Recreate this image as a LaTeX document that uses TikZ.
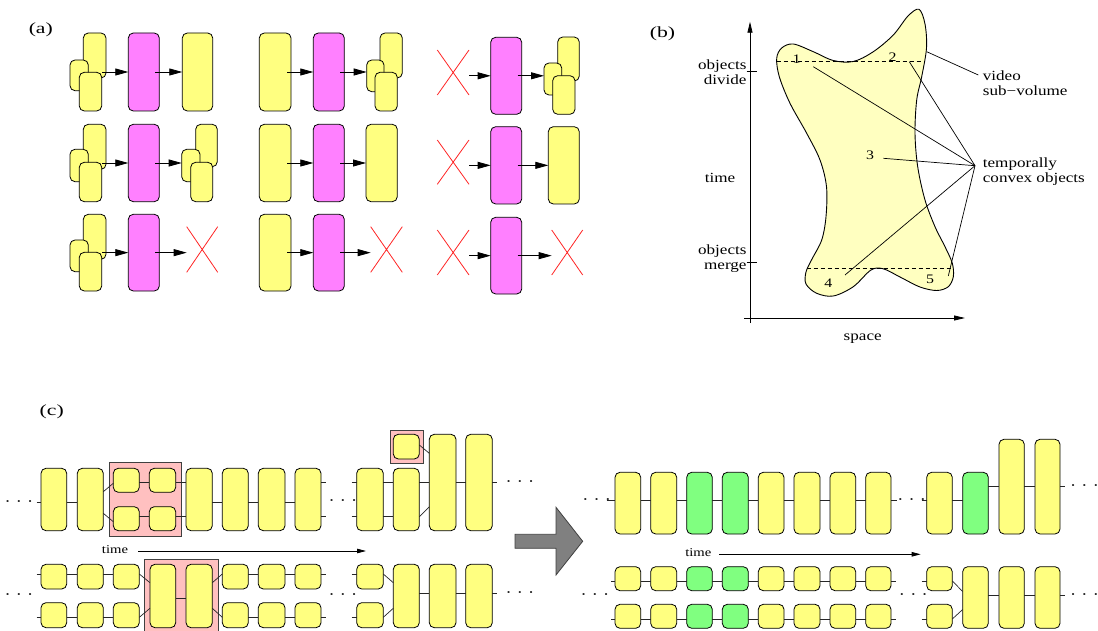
\documentclass[tikz,border=0pt]{standalone}
\usepackage{fontspec}
\setmainfont{Liberation Serif}[FakeStretch=1.22]
\newfontfamily\labelfont{Liberation Serif}[FakeStretch=1.4]
\usetikzlibrary{arrows.meta}
\definecolor{objyel}{HTML}{FFFF80}
\definecolor{objmag}{HTML}{FF80FF}
\definecolor{objgrn}{HTML}{80FF80}
\definecolor{selpink}{HTML}{FFC0C0}
\definecolor{blobfill}{HTML}{FFFFC0}
\definecolor{xred}{HTML}{FF2424}
\definecolor{arrgray}{HTML}{808080}
\newcommand{\ObjBox}[6]{\node[objbox, fill=#2, minimum width={(#5)-(#3)}, minimum height={(#6)-(#4)}] (#1) at ({((#3)+(#5))/2},{((#4)+(#6))/2}) {};}
\newcommand{\SelBox}[5]{\node[selbox, minimum width={(#4)-(#2)}, minimum height={(#5)-(#3)}] (#1) at ({((#2)+(#4))/2},{((#3)+(#5))/2}) {};}
\newcommand{\XMark}[5]{\node[xbox, minimum width={(#4)-(#2)}, minimum height={(#5)-(#3)}] (#1) at ({((#2)+(#4))/2},{((#3)+(#5))/2}) {};
  \draw[xline] (#1.north west) -- (#1.south east) (#1.south west) -- (#1.north east);}
\newcommand{\Lvl}[2]{\coordinate (#1) at (0,#2);}
\newcommand{\Dots}{·\hspace{5.2pt}·\hspace{5.2pt}·}
\begin{document}
\begin{tikzpicture}[x=1pt,y=-1pt,
  objbox/.style={draw=black, line width=0.8pt, rounded corners=5pt, inner sep=0pt, outer sep=0pt},
  selbox/.style={draw=black!75, fill=selpink, line width=0.8pt, inner sep=0pt, outer sep=0pt},
  xbox/.style={inner sep=0pt, outer sep=0pt},
  xline/.style={draw=xred, line width=0.8pt},
  arr/.style={-{Triangle[length=13pt,width=7pt]}, line width=0.8pt, shorten <=-4pt},
  conn/.style={draw=black!85, line width=0.7pt},
  tarr/.style={-{Triangle[length=9pt,width=4.5pt]}, line width=0.8pt},
  axarr/.style={-{Triangle[length=11pt,width=5pt]}, line width=0.8pt},
  thinln/.style={draw=black, line width=0.7pt},
  dashln/.style={draw=black, line width=0.7pt, dash pattern=on 4pt off 3pt},
  blob/.style={fill=blobfill, draw=black, line width=0.9pt},
  labtxt/.style={font=\labelfont\fontsize{15.5}{15.5}\selectfont, inner sep=0pt},
  btxt/.style={font=\fontsize{14}{15}\selectfont, inner sep=0pt},
  numtxt/.style={font=\fontsize{13}{13}\selectfont, inner sep=0pt},
  ctxt/.style={font=\fontsize{12}{12}\selectfont, inner sep=0pt},
  dots/.style={font=\fontsize{15}{15}\selectfont, inner sep=0pt, anchor=base, yshift=-4pt}]
\useasboundingbox (0,0) rectangle (1098,631);
\clip (0,0) rectangle (1098,631);

% ================= (a) =================
\node[labtxt] (la) at (40.8,30) {(a)};
% group 1
\ObjBox{a1b}{objyel}{83.3}{33}{106}{78}
\ObjBox{a1l}{objyel}{70}{60}{88.3}{90.7}
\ObjBox{a1f}{objyel}{79.3}{72.3}{101.7}{111}
\ObjBox{a1m}{objmag}{128.3}{33}{159.3}{111}
\ObjBox{a1r}{objyel}{182.3}{33}{212.7}{111}
\draw[arr] (a1m.west -| a1b.east) -- (a1m.west);
\draw[arr] (a1m.east) -- (a1r.west);
\ObjBox{a2b}{objyel}{83.3}{124.3}{106}{169.3}
\ObjBox{a2l}{objyel}{70}{149.3}{88.3}{181.7}
\ObjBox{a2f}{objyel}{79.3}{162.3}{101.7}{201.7}
\ObjBox{a2m}{objmag}{128.3}{124.3}{159.3}{201.7}
\ObjBox{a2rb}{objyel}{195.7}{124.3}{217.3}{166.7}
\ObjBox{a2rl}{objyel}{181.7}{149.3}{200}{181.7}
\ObjBox{a2rf}{objyel}{190.7}{162.3}{212.7}{201.7}
\draw[arr] (a2m.west -| a2b.east) -- (a2m.west);
\draw[arr] (a2m.east) -- (a2m.east -| a2rl.west);
\ObjBox{a3b}{objyel}{83.3}{214.3}{106}{259.3}
\ObjBox{a3l}{objyel}{70}{240}{88.3}{271.7}
\ObjBox{a3f}{objyel}{79.3}{252.3}{101.7}{291}
\ObjBox{a3m}{objmag}{128.3}{214.3}{159.3}{291}
\XMark{a3x}{186.7}{226.7}{217.7}{272.3}
\draw[arr] (a3m.west -| a3b.east) -- (a3m.west);
\draw[arr] (a3m.east) -- (a3m.east -| a3x.west);
% group 2
\ObjBox{b1y}{objyel}{259.3}{33}{291}{111}
\ObjBox{b1m}{objmag}{313.3}{33}{344.3}{111}
\ObjBox{b1rb}{objyel}{380}{33}{402.3}{78}
\ObjBox{b1rl}{objyel}{366.7}{60}{384}{91.7}
\ObjBox{b1rf}{objyel}{375}{72.3}{397.3}{111}
\draw[arr] (b1y.east) -- (b1m.west);
\draw[arr] (b1m.east) -- (b1m.east -| b1rl.west);
\ObjBox{b2y}{objyel}{259.3}{124.3}{291}{201.7}
\ObjBox{b2m}{objmag}{313.3}{124.3}{344.3}{201.7}
\ObjBox{b2r}{objyel}{366}{124.3}{397.3}{201.7}
\draw[arr] (b2y.east) -- (b2m.west);
\draw[arr] (b2m.east) -- (b2r.west);
\ObjBox{b3y}{objyel}{259.3}{214.3}{291}{291}
\ObjBox{b3m}{objmag}{313.3}{214.3}{344.3}{291}
\XMark{b3x}{370.7}{226.7}{402.3}{272.3}
\draw[arr] (b3y.east) -- (b3m.west);
\draw[arr] (b3m.east) -- (b3m.east -| b3x.west);
% group 3
\XMark{c1x}{437.3}{50}{469}{95}
\ObjBox{c1m}{objmag}{490.7}{37.3}{521.7}{114.3}
\ObjBox{c1rb}{objyel}{557.7}{37}{579.3}{81}
\ObjBox{c1rl}{objyel}{544}{63}{561.7}{95}
\ObjBox{c1rf}{objyel}{552.7}{75.7}{575}{114.3}
\draw[arr, shorten <=0pt] (c1m.west -| c1x.east) -- (c1m.west);
\draw[arr] (c1m.east) -- (c1m.east -| c1rl.west);
\XMark{c2x}{437.3}{140}{469}{184.3}
\ObjBox{c2m}{objmag}{490.7}{126.7}{521.7}{204}
\ObjBox{c2r}{objyel}{548.3}{126.7}{579.3}{204}
\draw[arr, shorten <=0pt] (c2m.west -| c2x.east) -- (c2m.west);
\draw[arr] (c2m.east) -- (c2r.west);
\XMark{c3x}{437.3}{230}{469}{275}
\ObjBox{c3m}{objmag}{490.7}{217.3}{521.7}{294}
\XMark{c3y}{551.7}{230}{582.7}{275}
\draw[arr, shorten <=0pt] (c3m.west -| c3x.east) -- (c3m.west);
\draw[arr] (c3m.east) -- (c3m.east -| c3y.west);

% ================= (b) =================
\node[labtxt] (lbb) at (662.5,33.5) {(b)};
\filldraw[blob] plot[smooth cycle, tension=0.55] coordinates {
 (919,9.3) (925,24) (926.5,48) (921.7,76.7) (916.7,100) (915,133.3) (917.7,166.7)
 (925,200) (935,226.7) (945,246.7) (952.3,263.3) (953.3,276.7) (948.3,286.7)
 (936.7,290.5) (920,287) (900,277) (883.3,268.8) (871,270) (853.3,286.7)
 (833.3,296) (816.7,293.3) (806,284) (806,272) (812,259) (821.7,240) (826,216.7)
 (826.5,186.7) (820,160) (806.7,133.3) (790,103.3) (779.3,76.7) (776.7,58.3)
 (781.7,48) (793.3,44) (813.3,51.7) (833.3,60.5) (853.3,61.5) (873.3,51.7)
 (893.3,35) (908,16)};
\coordinate (d1a) at (776.7,61); \coordinate (d1b) at (923.3,61);
\coordinate (d2a) at (806.7,268.3); \coordinate (d2b) at (953,268.3);
\draw[dashln] (d1a) -- (d1b);
\draw[dashln] (d2a) -- (d2b);
\coordinate (vb) at (750,323); \coordinate (vt) at (750,21.7);
\coordinate (hl) at (744,318); \coordinate (hr) at (965,318);
\draw[axarr] (vb) -- (vt);
\draw[axarr] (hl) -- (hr);
\coordinate (t1a) at (746.7,71.7); \coordinate (t1b) at (756.7,71.7);
\coordinate (t2a) at (746.7,262.3); \coordinate (t2b) at (756.7,262.3);
\draw[thinln] (t1a) -- (t1b);
\draw[thinln] (t2a) -- (t2b);
\node[btxt, align=right, anchor=east] (odiv) at (746.7,72) {objects\\divide};
\node[btxt, align=right, anchor=east] (omer) at (746.7,259) {objects\\merge};
\node[btxt] (btime) at (720,177.7) {time};
\node[btxt] (bspace) at (862.7,338.3) {space};
\node[numtxt] (n1) at (796.7,59) {1};
\node[numtxt] (n2) at (892.7,56.7) {2};
\node[numtxt] (n3) at (870,155) {3};
\node[numtxt] (n4) at (828.3,283.3) {4};
\node[numtxt] (n5) at (930,279.3) {5};
\node[btxt, align=left, anchor=west] (vsv) at (982.7,83) {video\\sub−volume};
\node[btxt, align=left, anchor=west] (tco) at (982.7,172) {temporally\\convex objects};
\coordinate (vsp) at (926.7,51.7); \coordinate (vsq) at (978.3,75);
\draw[thinln] (vsp) -- (vsq);
\coordinate (tcp) at (975,165.7);
\coordinate (e1) at (813.3,66.7); \coordinate (e2) at (909.3,61.7);
\coordinate (e3) at (883.3,158.3); \coordinate (e4) at (845,275);
\coordinate (e5) at (948.3,276);
\draw[thinln] (tcp) -- (e1);
\draw[thinln] (tcp) -- (e2);
\draw[thinln] (tcp) -- (e3);
\draw[thinln] (tcp) -- (e4);
\draw[thinln] (tcp) -- (e5);

% ================= (c) =================
\node[labtxt] (lc) at (51.7,411.7) {(c)};
% ---- top-left row
\Lvl{PA}{482.7}\Lvl{PB}{516.7}\Lvl{PM}{502.3}
\Lvl{PD1}{491.7}\Lvl{PD2}{513.3}\Lvl{PS1}{483.3}\Lvl{PS2}{521.7}
\SelBox{pk1}{109.3}{462.7}{181}{536}
\ObjBox{p1}{objyel}{41}{468.3}{66.7}{530.7}
\ObjBox{p2}{objyel}{77.3}{468.3}{103.3}{530.7}
\ObjBox{p3t}{objyel}{113.3}{468.3}{139.3}{492.3}
\ObjBox{p3b}{objyel}{113.3}{506.7}{139.3}{530.7}
\ObjBox{p4t}{objyel}{149.3}{468.3}{175.7}{492.3}
\ObjBox{p4b}{objyel}{149.3}{506.7}{175.7}{530.7}
\ObjBox{p5}{objyel}{186}{468.3}{212.3}{530.7}
\ObjBox{p6}{objyel}{222.3}{468.3}{248.3}{530.7}
\ObjBox{p7}{objyel}{258.3}{468.3}{285}{530.7}
\ObjBox{p8}{objyel}{295}{468.3}{321}{530.7}
\coordinate (pL) at (36.7,502.3);
\coordinate (pRa) at (325.5,482.7); \coordinate (pRb) at (325.5,516.7);
\node[dots] (pdl) at (19,502.3) {\Dots};
\node[dots] (pdr) at (343,501) {\Dots};
\draw[conn] (pL) -- (p1.west |- PM);
\draw[conn] (p1.east |- PM) -- (p2.west |- PM);
\draw[conn] (p2.east |- PD1) -- (p3t.west |- PS1);
\draw[conn] (p2.east |- PD2) -- (p3b.west |- PS2);
\draw[conn] (p3t.east |- PA) -- (p4t.west |- PA);
\draw[conn] (p3b.east |- PB) -- (p4b.west |- PB);
\draw[conn] (p4t.east |- PA) -- (p5.west |- PA);
\draw[conn] (p4b.east |- PB) -- (p5.west |- PB);
\draw[conn] (p5.east |- PM) -- (p6.west |- PM);
\draw[conn] (p6.east |- PM) -- (p7.west |- PM);
\draw[conn] (p7.east |- PM) -- (p8.west |- PM);
\draw[conn] (p8.east |- PA) -- (pRa);
\draw[conn] (p8.east |- PB) -- (pRb);
% ---- top-right group (left half)
\Lvl{QD}{506.7}\Lvl{QS}{445}\Lvl{QT}{453.3}
\SelBox{pk2}{390}{430}{423.7}{463.3}
\ObjBox{q1}{objyel}{356.7}{468.3}{383.3}{530.7}
\ObjBox{q2}{objyel}{393.3}{468.3}{419.3}{530.7}
\ObjBox{qs}{objyel}{393.3}{434.3}{419.3}{459}
\ObjBox{q3}{objyel}{429.3}{434.3}{456}{530.7}
\ObjBox{q4}{objyel}{465.7}{434.3}{492.3}{530.7}
\coordinate (qLa) at (351.7,482.7); \coordinate (qLb) at (351.7,516.7);
\coordinate (qR) at (496.7,482.7);
\node[dots] (qdr) at (520,482.7) {\Dots};
\draw[conn] (qLa) -- (q1.west |- PA);
\draw[conn] (qLb) -- (q1.west |- PB);
\draw[conn] (q1.east |- PA) -- (q2.west |- PA);
\draw[conn] (q1.east |- PB) -- (q2.west |- PB);
\draw[conn] (q2.east |- PA) -- (q3.west |- PA);
\draw[conn] (q2.east |- PB) -- (q3.west |- QD);
\draw[conn] (qs.east |- QS) -- (q3.west |- QT);
\draw[conn] (q3.east |- PA) -- (q4.west |- PA);
\draw[conn] (q4.east |- PA) -- (qR);
% ---- time arrow (left)
\node[ctxt] (tleft) at (115,550) {time};
\coordinate (tls) at (138.3,551); \coordinate (tle) at (366,551);
\draw[tarr] (tls) -- (tle);
% ---- bottom-left row
\Lvl{SA}{574}\Lvl{SB}{617.3}\Lvl{SM}{598.3}\Lvl{SD1}{582.7}\Lvl{SD2}{608.3}
\SelBox{pk3}{144}{559.3}{218.3}{645}
\ObjBox{s1t}{objyel}{41}{564.3}{66.7}{589}
\ObjBox{s1b}{objyel}{41}{602.7}{66.7}{627.7}
\ObjBox{s2t}{objyel}{77.3}{564.3}{103.3}{589}
\ObjBox{s2b}{objyel}{77.3}{602.7}{103.3}{627.7}
\ObjBox{s3t}{objyel}{113.3}{564.3}{139.3}{589}
\ObjBox{s3b}{objyel}{113.3}{602.7}{139.3}{627.7}
\ObjBox{s4}{objyel}{150}{564.3}{175.7}{627.7}
\ObjBox{s5}{objyel}{186}{564.3}{212.3}{627.7}
\ObjBox{s6t}{objyel}{222.3}{564.3}{248.3}{589}
\ObjBox{s6b}{objyel}{222.3}{602.7}{248.3}{627.7}
\ObjBox{s7t}{objyel}{258.3}{564.3}{285}{589}
\ObjBox{s7b}{objyel}{258.3}{602.7}{285}{627.7}
\ObjBox{s8t}{objyel}{295}{564.3}{321}{589}
\ObjBox{s8b}{objyel}{295}{602.7}{321}{627.7}
\coordinate (sLa) at (36.7,574); \coordinate (sLb) at (36.7,617.3);
\coordinate (sRa) at (325.5,574); \coordinate (sRb) at (325.5,617.3);
\node[dots] (sdl) at (19,595) {\Dots};
\node[dots] (sdr) at (343,595) {\Dots};
\draw[conn] (sLa) -- (s1t.west |- SA);
\draw[conn] (sLb) -- (s1b.west |- SB);
\draw[conn] (s1t.east |- SA) -- (s2t.west |- SA);
\draw[conn] (s1b.east |- SB) -- (s2b.west |- SB);
\draw[conn] (s2t.east |- SA) -- (s3t.west |- SA);
\draw[conn] (s2b.east |- SB) -- (s3b.west |- SB);
\draw[conn] (s3t.east |- SA) -- (s4.west |- SD1);
\draw[conn] (s3b.east |- SB) -- (s4.west |- SD2);
\draw[conn] (s4.east |- SM) -- (s5.west |- SM);
\draw[conn] (s5.east |- SD1) -- (s6t.west |- SA);
\draw[conn] (s5.east |- SD2) -- (s6b.west |- SB);
\draw[conn] (s6t.east |- SA) -- (s7t.west |- SA);
\draw[conn] (s6b.east |- SB) -- (s7b.west |- SB);
\draw[conn] (s7t.east |- SA) -- (s8t.west |- SA);
\draw[conn] (s7b.east |- SB) -- (s8b.west |- SB);
\draw[conn] (s8t.east |- SA) -- (sRa);
\draw[conn] (s8b.east |- SB) -- (sRb);
% ---- bottom-right group (left half)
\Lvl{UM}{593.3}
\ObjBox{u1t}{objyel}{356.7}{564.3}{383.3}{589}
\ObjBox{u1b}{objyel}{356.7}{602.7}{383.3}{627.7}
\ObjBox{u2}{objyel}{393.3}{564.3}{419.3}{627.7}
\ObjBox{u3}{objyel}{429.3}{564.3}{456}{627.7}
\ObjBox{u4}{objyel}{465.7}{564.3}{492.3}{627.7}
\coordinate (uLa) at (351.7,574); \coordinate (uLb) at (351.7,617.3);
\coordinate (uR) at (496.7,593.3);
\node[dots] (udr) at (520,593.3) {\Dots};
\draw[conn] (uLa) -- (u1t.west |- SA);
\draw[conn] (uLb) -- (u1b.west |- SB);
\draw[conn] (u1t.east |- SA) -- (u2.west |- SD1);
\draw[conn] (u1b.east |- SB) -- (u2.west |- SD2);
\draw[conn] (u2.east |- UM) -- (u3.west |- UM);
\draw[conn] (u3.east |- UM) -- (u4.west |- UM);
\draw[conn] (u4.east |- UM) -- (uR);
% ---- big arrow
\filldraw[fill=arrgray, draw=black!75, line width=0.8pt]
  (515,534.3) -- (556,534.3) -- (556,507.3) -- (582.7,541.3) -- (556,575) -- (556,548.3) -- (515,548.3) -- cycle;
% ---- right half, top row
\Lvl{VM}{500.7}\Lvl{VH}{486.7}
\ObjBox{v1}{objyel}{615}{472.3}{640.7}{534}
\ObjBox{v2}{objyel}{650.7}{472.3}{676.7}{534}
\ObjBox{v3}{objgrn}{686.7}{472.3}{712.3}{534}
\ObjBox{v4}{objgrn}{722.3}{472.3}{748.3}{534}
\ObjBox{v5}{objyel}{758.3}{472.3}{784}{534}
\ObjBox{v6}{objyel}{794}{472.3}{820}{534}
\ObjBox{v7}{objyel}{830}{472.3}{855.7}{534}
\ObjBox{v8}{objyel}{865.7}{472.3}{891}{534}
\ObjBox{v9}{objyel}{926.7}{472.3}{952.3}{534}
\ObjBox{v10}{objgrn}{962.7}{472.3}{988.3}{534}
\ObjBox{v11}{objyel}{999}{439.3}{1024.3}{534}
\ObjBox{v12}{objyel}{1035}{439.3}{1060}{534}
\coordinate (vL) at (606.7,500.7); \coordinate (vR) at (896.7,500.7);
\coordinate (vL2) at (921.7,500.7); \coordinate (vR2) at (1065,486.7);
\node[dots] (vdl) at (596.7,500.7) {\Dots};
\node[dots] (vdm) at (911.7,500.7) {\Dots};
\node[dots] (vdr) at (1084.5,486.7) {\Dots};
\draw[conn] (vL) -- (v1.west |- VM);
\draw[conn] (v1.east |- VM) -- (v2.west |- VM);
\draw[conn] (v2.east |- VM) -- (v3.west |- VM);
\draw[conn] (v3.east |- VM) -- (v4.west |- VM);
\draw[conn] (v4.east |- VM) -- (v5.west |- VM);
\draw[conn] (v5.east |- VM) -- (v6.west |- VM);
\draw[conn] (v6.east |- VM) -- (v7.west |- VM);
\draw[conn] (v7.east |- VM) -- (v8.west |- VM);
\draw[conn] (v8.east |- VM) -- (vR);
\draw[conn] (vL2) -- (v9.west |- VM);
\draw[conn] (v9.east |- VM) -- (v10.west |- VM);
\draw[conn] (v10.east |- VH) -- (v11.west |- VH);
\draw[conn] (v11.east |- VH) -- (v12.west |- VH);
\draw[conn] (v12.east |- VH) -- (vR2);
% ---- right half, time arrow
\node[ctxt] (tright) at (698.3,552.7) {time};
\coordinate (trs) at (719.3,554.3); \coordinate (tre) at (920.7,554.3);
\draw[tarr] (trs) -- (tre);
% ---- right half, bottom rows
\Lvl{WA}{581}\Lvl{WB}{619}\Lvl{WM}{595}\Lvl{WD1}{591.5}\Lvl{WD2}{609.5}
\ObjBox{w1t}{objyel}{615}{566.7}{640.7}{590.7}
\ObjBox{w1b}{objyel}{615}{604.3}{640.7}{628.3}
\ObjBox{w2t}{objyel}{650.7}{566.7}{676.7}{590.7}
\ObjBox{w2b}{objyel}{650.7}{604.3}{676.7}{628.3}
\ObjBox{w3t}{objgrn}{686.7}{566.7}{712.3}{590.7}
\ObjBox{w3b}{objgrn}{686.7}{604.3}{712.3}{628.3}
\ObjBox{w4t}{objgrn}{722.3}{566.7}{748.3}{590.7}
\ObjBox{w4b}{objgrn}{722.3}{604.3}{748.3}{628.3}
\ObjBox{w5t}{objyel}{758.3}{566.7}{784}{590.7}
\ObjBox{w5b}{objyel}{758.3}{604.3}{784}{628.3}
\ObjBox{w6t}{objyel}{794}{566.7}{820}{590.7}
\ObjBox{w6b}{objyel}{794}{604.3}{820}{628.3}
\ObjBox{w7t}{objyel}{830}{566.7}{855.7}{590.7}
\ObjBox{w7b}{objyel}{830}{604.3}{855.7}{628.3}
\ObjBox{w8t}{objyel}{865.7}{566.7}{891}{590.7}
\ObjBox{w8b}{objyel}{865.7}{604.3}{891}{628.3}
\ObjBox{w9t}{objyel}{926.7}{566.7}{952.3}{590.7}
\ObjBox{w9b}{objyel}{926.7}{604.3}{952.3}{628.3}
\ObjBox{w10}{objyel}{962.7}{566.7}{988.3}{628.3}
\ObjBox{w11}{objyel}{999}{566.7}{1024.3}{628.3}
\ObjBox{w12}{objyel}{1035}{566.7}{1060}{628.3}
\coordinate (wLa) at (611,581); \coordinate (wLb) at (611,619);
\coordinate (wRa) at (896,581); \coordinate (wRb) at (896,619);
\coordinate (wL2a) at (921.7,581); \coordinate (wL2b) at (921.7,619);
\coordinate (wR2) at (1065,595);
\node[dots] (wdl) at (595,595.5) {\Dots};
\node[dots] (wdm) at (913.3,595) {\Dots};
\node[dots] (wdr) at (1084.5,595) {\Dots};
\draw[conn] (wLa) -- (w1t.west |- WA);
\draw[conn] (wLb) -- (w1b.west |- WB);
\foreach \i/\j in {1/2,2/3,3/4,4/5,5/6,6/7,7/8} {
  \draw[conn] (w\i t.east |- WA) -- (w\j t.west |- WA);
  \draw[conn] (w\i b.east |- WB) -- (w\j b.west |- WB);
}
\draw[conn] (w8t.east |- WA) -- (wRa);
\draw[conn] (w8b.east |- WB) -- (wRb);
\draw[conn] (wL2a) -- (w9t.west |- WA);
\draw[conn] (wL2b) -- (w9b.west |- WB);
\draw[conn] (w9t.east |- WA) -- (w10.west |- WD1);
\draw[conn] (w9b.east |- WB) -- (w10.west |- WD2);
\draw[conn] (w10.east |- WM) -- (w11.west |- WM);
\draw[conn] (w11.east |- WM) -- (w12.west |- WM);
\draw[conn] (w12.east |- WM) -- (wR2);
\end{tikzpicture}
\end{document}
